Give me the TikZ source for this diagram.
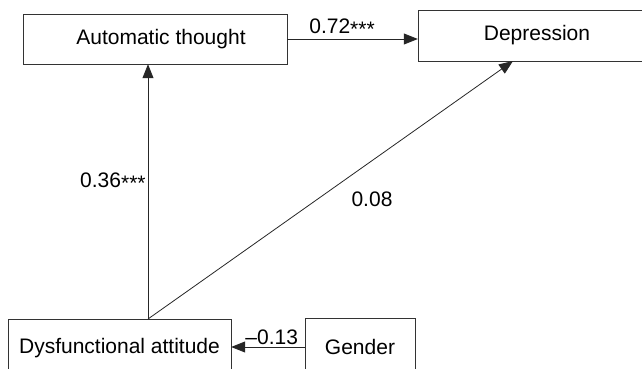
\documentclass[tikz,border=0pt]{standalone}
\usepackage{fontspec}
\setmainfont{Liberation Sans}
\usepackage{tikz}
\usetikzlibrary{arrows.meta,positioning,calc}
\tikzstyle{var}=[draw=black!80,rectangle,inner sep=0pt,font=\fontsize{21}{24}\selectfont]
\tikzstyle{effect}=[draw=black!85,line width=0.8pt,-{Triangle[length=14pt,width=11pt]}]
\tikzstyle{coef}=[font=\fontsize{21}{24}\selectfont,inner sep=2pt]
\newcommand{\sig}{\raisebox{-0.3ex}{***}}

\begin{document}
\begin{tikzpicture}[x=1pt,y=-1pt]
\useasboundingbox (0,0) rectangle (642,369);
\clip (0,0) rectangle (642,369);
\node [var, minimum width=264pt, minimum height=50pt] (auto) at (155,39) {\hspace*{12pt}Automatic thought};
\node [var, minimum width=238pt, minimum height=51pt] (dep) at (537,35.5) {Depression};
\node [var, minimum width=223pt, minimum height=58pt] (dysf) at (119.5,348) {Dysfunctional attitude};
\node [var, minimum width=110pt, minimum height=58pt] (gender) at (360,347) {Gender};
\coordinate (root) at (148,319);
\coordinate (tip) at (513,61);
\draw [effect] (root) -- (root |- auto.south)
  node [coef, pos=0.54, left] (b1) {0.36\sig};
\draw [effect] (root) -- (tip);
\node [coef] (b2) at (372,199) {0.08};
\draw [effect] (auto.east) -- (auto.east -| dep.west)
  node [coef, pos=0.42, above] (b3) {0.72\sig};
\draw [effect] (gender.west) -- (gender.west -| dysf.east)
  node [coef, pos=0.45, above] (b4) {\textendash0.13};
\end{tikzpicture}
\end{document}
